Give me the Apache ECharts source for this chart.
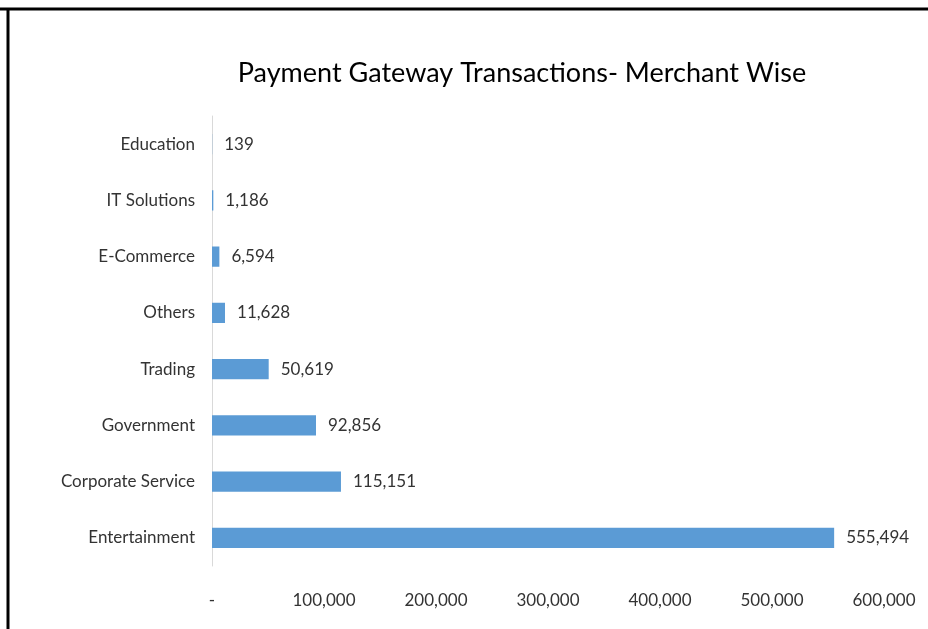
<!DOCTYPE html>
<html>
<head>
<meta charset="utf-8">
<script src="https://cdn.jsdelivr.net/npm/echarts@6/dist/echarts.min.js"></script>
<style>
  html, body { margin: 0; padding: 0; background: #fff; }
  #chart { width: 928px; height: 629px; }
</style>
</head>
<body>
<div id="chart"></div>
<script>
// categories top to bottom
var categories = ['Education', 'IT Solutions', 'E-Commerce', 'Others', 'Trading', 'Government', 'Corporate Service', 'Entertainment'];
var transactions = [139, 1186, 6594, 11628, 50619, 92856, 115151, 555494];

var font = 'Lato';
var chart = echarts.init(document.getElementById('chart'));

var option = {
  backgroundColor: '#fff',
  title: {
    text: 'Payment Gateway Transactions- Merchant Wise',
    left: 517,
    textAlign: 'center',
    top: 55,
    textStyle: { fontFamily: font, fontSize: 27, fontWeight: 'normal', color: '#000' }
  },
  // frame lines like the original picture (top and left edge only)
  graphic: [
    { type: 'line', shape: { x1: 0, y1: 9, x2: 928, y2: 9 }, style: { stroke: '#000', lineWidth: 3 } },
    { type: 'line', shape: { x1: 8, y1: 8, x2: 8, y2: 629 }, style: { stroke: '#000', lineWidth: 3 } }
  ],
  grid: { left: 212, right: 44, top: 116, bottom: 63 },
  xAxis: {
    type: 'value',
    min: 0,
    max: 600000,
    interval: 100000,
    splitLine: { show: false },
    axisLine: { show: false },
    axisTick: { show: false },
    axisLabel: {
      margin: 26,
      fontFamily: font,
      fontSize: 17,
      color: '#333',
      formatter: function (v) { return v === 0 ? '-' : v.toLocaleString('en-US'); }
    }
  },
  yAxis: {
    type: 'category',
    inverse: true,
    data: categories,
    axisLine: { show: true, lineStyle: { color: '#d9d9d9', width: 1 } },
    axisTick: { show: false },
    axisLabel: { margin: 17, fontFamily: font, fontSize: 17, color: '#333', padding: [3, 0, 0, 0] }
  },
  series: [{
    type: 'bar',
    data: transactions,
    barWidth: '36%',
    itemStyle: { color: '#5b9bd5' },
    label: {
      show: true,
      position: 'right',
      distance: 12,
      fontFamily: font,
      fontSize: 17,
      color: '#333',
      padding: [4, 0, 0, 0],
      formatter: function (p) { return p.value.toLocaleString('en-US'); }
    },
    animation: false
  }]
};
chart.setOption(option);
</script>
</body>
</html>
